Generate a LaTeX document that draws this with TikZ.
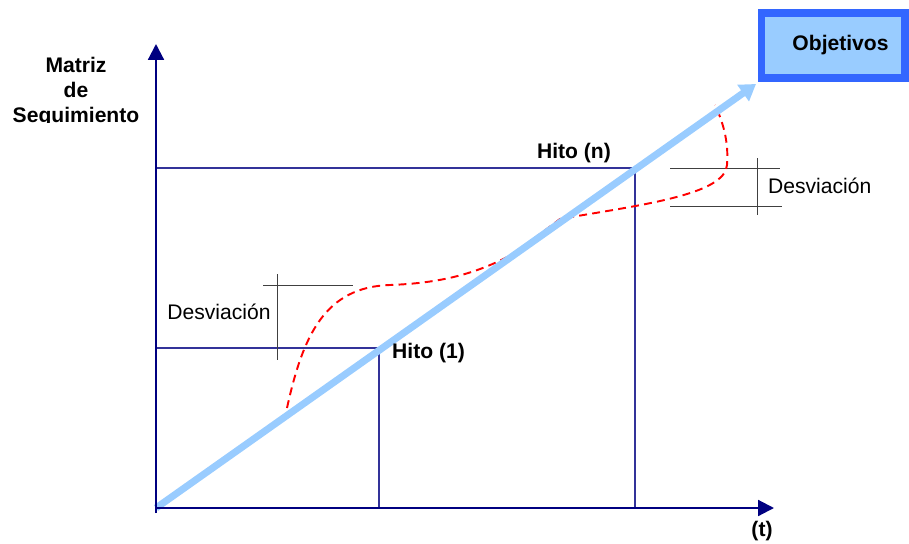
\documentclass[tikz,border=0pt]{standalone}
\usepackage{fontspec}
\setmainfont{Liberation Sans}
\usetikzlibrary{arrows.meta}

\definecolor{ejecolor}{RGB}{0,0,128}
\definecolor{hitocolor}{RGB}{51,51,153}
\definecolor{planclaro}{RGB}{153,204,255}
\definecolor{borde}{RGB}{51,102,255}

\tikzset{
  eje/.style={ejecolor, line width=1.2pt, -{Triangle[length=9pt, width=9pt]}},
  hito/.style={hitocolor, line width=0.6pt},
  cota/.style={black!75, line width=0.5pt},
  rotulo/.style={font=\fontsize{12}{14}\selectfont\bfseries},
  texto/.style={font=\fontsize{12}{14}\selectfont}
}

\begin{document}
\begin{tikzpicture}[x=0.02cm, y=-0.02cm]
  \useasboundingbox (0,0) rectangle (909,544);
  \coordinate (O) at (156,508);
  \coordinate (x) at (774,508);
  \coordinate (y) at (156,44);
  \coordinate (h1) at (379,348);
  \coordinate (hn) at (635,168);
  \coordinate (meta) at (756,84);

  % lineas de hitos
  \draw[hito] (O |- h1) -- (h1) -- (h1 |- O);
  \draw[hito] (O |- hn) -- (hn) -- (hn |- O);

  % cotas de desviacion
  \draw[cota] (277,274) -- (277,360);
  \draw[cota] (263,285) -- (353,285);
  \draw[cota] (757,158) -- (757,215);
  \draw[cota] (670,168) -- (780,168);
  \draw[cota] (670,206) -- (782,206);
  \node[texto] (d1) at (219,312) {Desviación};
  \node[texto, anchor=west] (d2) at (762,186) {Desviación};

  % desviacion real
  \draw[red, line width=1.1pt, dash pattern=on 4.5pt off 3pt]
    (287,408) .. controls (303,335) and (325,287) .. (390,285)
    .. controls (445,283) and (480,272) .. (515,253) -- (560,219)
    .. controls (640,205) and (725,195) .. (727,165)
    .. controls (729,140) and (722,120) .. (715,105);

  % plan
  \draw[planclaro, line width=4pt, -{Triangle[length=9pt, width=11pt]}] (O) -- (meta);

  % ejes
  \draw[eje] (O) -- (x);
  \draw[eje] ([yshift=-0.1cm]O) -- (y);

  \node[rotulo, anchor=west] (t1) at (386,353) {Hito (1)};
  \node[rotulo] (tn) at (574,153) {Hito (n)};
  \node[rotulo] (tt) at (762,531) {(t)};

  \node[rotulo, draw=borde, line width=4pt, fill=planclaro,
        minimum width=2.88cm, minimum height=1.3cm, inner sep=0pt]
    (obj) at (833,45.5) {\hspace{0.3cm}Objetivos};

  \begin{scope}
    \clip (0,0) rectangle (150,122);
    \node[rotulo, align=center, font=\fontsize{12}{14.2}\selectfont\bfseries]
      (matriz) at (76,92) {Matriz\\de\\Seguimiento};
  \end{scope}
\end{tikzpicture}
\end{document}
